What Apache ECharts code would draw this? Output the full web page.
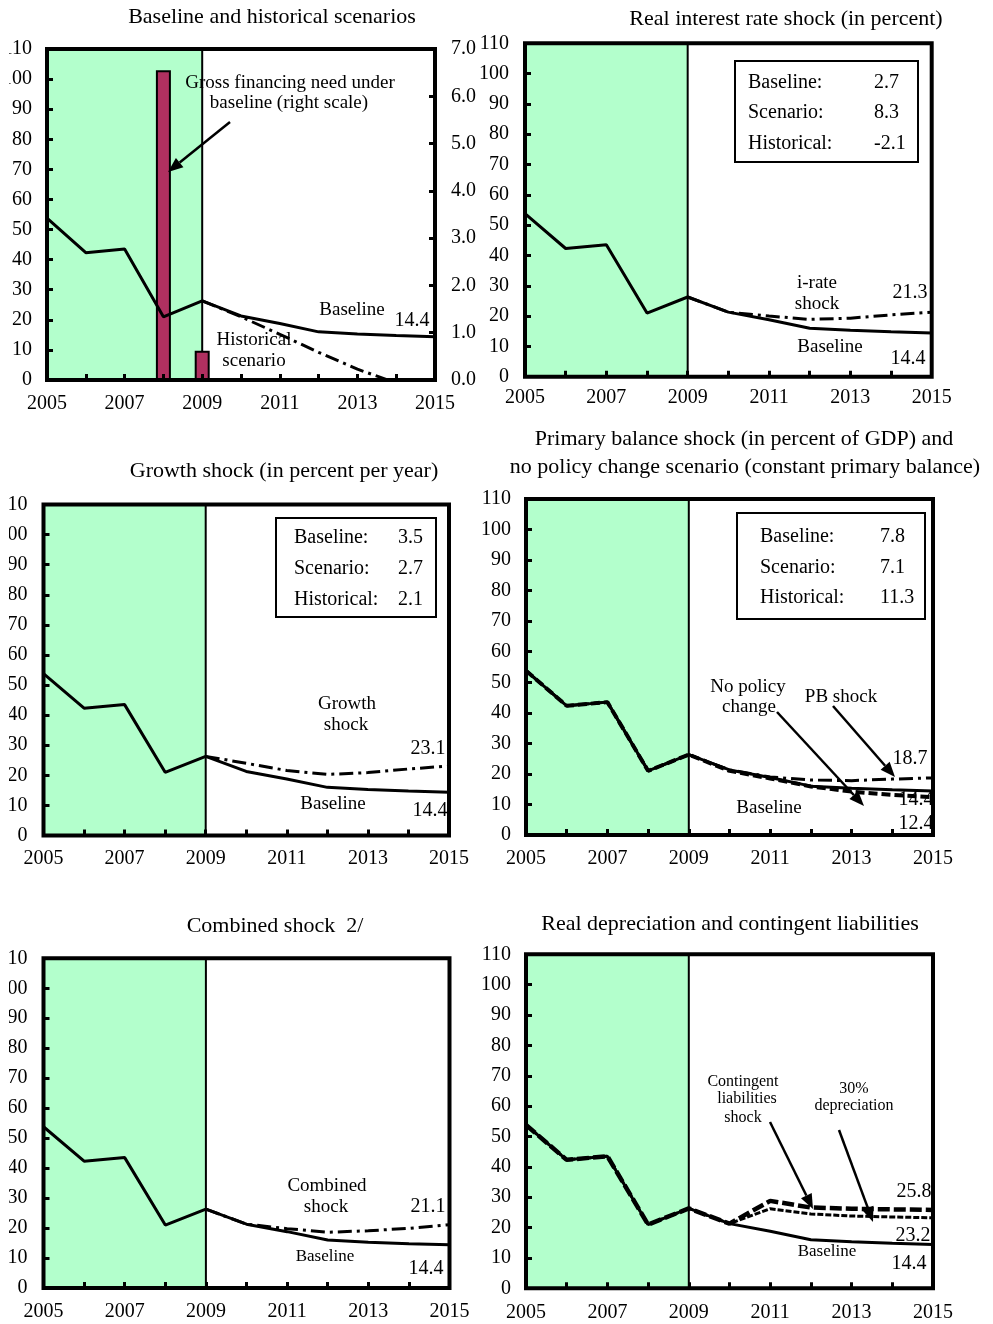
<!DOCTYPE html>
<html>
<head>
<meta charset="utf-8">
<script src="https://cdn.jsdelivr.net/npm/echarts@6/dist/echarts.min.js"></script>
<style>
  body { margin: 0; background: #fff; }
  #colLeft { position: absolute; left: 9px; top: 0; width: 473px; height: 1324px; }
  #colRight { position: absolute; left: 472px; top: 0; width: 521px; height: 1324px; }
</style>
</head>
<body>
<div id="colLeft"></div>
<div id="colRight"></div>
<script>
// ---------------- data ----------------
var years = [2005, 2006, 2007, 2008, 2009, 2010, 2011, 2012, 2013, 2014, 2015];

var baseline       = [53.8, 42.3, 43.5, 21.0, 26.3, 21.3, 18.8, 16.0, 15.3, 14.8, 14.4];
var historical     = [null, null, null, null, 26.3, 21.0, 15.2, 9.2, 3.6, -1.0, -5.6];
var grossFinancing = [null, null, null, 6.55, 0.62, null, null, null, null, null, null];
var irateShock     = [null, null, null, null, 26.3, 21.3, 20.0, 18.9, 19.3, 20.4, 21.3];
var growthShock    = [null, null, null, null, 26.3, 24.0, 21.6, 20.3, 20.9, 22.1, 23.1];
var pbShock        = [53.8, 42.3, 43.5, 21.0, 26.3, 21.3, 19.0, 18.0, 17.8, 18.3, 18.7];
var noPolicyChange = [53.8, 42.3, 43.5, 21.0, 26.3, 21.0, 18.5, 15.9, 14.2, 13.1, 12.4];
var combinedShock  = [null, null, null, null, 26.3, 21.3, 19.8, 18.6, 19.1, 19.9, 21.1];
var contingentLiab = [53.8, 42.3, 43.5, 21.0, 26.3, 21.3, 28.8, 26.6, 26.2, 26.0, 25.8];
var depreciation30 = [53.8, 42.3, 43.5, 21.0, 26.3, 21.3, 26.2, 24.5, 23.8, 23.5, 23.2];

var irateBox  = [['Baseline:', '2.7'], ['Scenario:', '8.3'], ['Historical:', '-2.1']];
var growthBox = [['Baseline:', '3.5'], ['Scenario:', '2.7'], ['Historical:', '2.1']];
var pbBox     = [['Baseline:', '7.8'], ['Scenario:', '7.1'], ['Historical:', '11.3']];

// ---------------- helpers ----------------
var FONT = 'Liberation Serif';
var GREEN = '#b3ffcc';
var DASHDOT = [14, 5, 3, 5];

function pairs(vals) {
    return years.map(function (y, i) { return [y, vals[i]]; });
}

function grid(left, top, width, height) {
    return { left: left, top: top, width: width, height: height, show: true,
             containLabel: false, outerBoundsMode: 'none',
             borderColor: '#000', borderWidth: 4, backgroundColor: 'rgba(0,0,0,0)', z: 10 };
}

function tick() {
    return { inside: true, length: 6, lineStyle: { color: '#000', width: 3 } };
}

function xAxisFor(gi, margin) {
    return {
        type: 'value', gridIndex: gi, min: 2005, max: 2015, interval: 1, z: 3,
        axisLine: { show: false }, splitLine: { show: false }, axisTick: tick(),
        axisLabel: { margin: margin, color: '#000', fontFamily: FONT, fontSize: 20,
            formatter: function (v) { return v % 2 === 1 ? String(v) : ''; } }
    };
}

function yAxisFor(gi, margin) {
    return {
        type: 'value', gridIndex: gi, min: 0, max: 110, interval: 10, z: 3,
        axisLine: { show: false }, splitLine: { show: false }, axisTick: tick(),
        axisLabel: { margin: margin, color: '#000', fontFamily: FONT, fontSize: 20 }
    };
}

function line(xi, yi, vals, width, type) {
    return {
        type: 'line', xAxisIndex: xi, yAxisIndex: yi, data: pairs(vals),
        symbol: 'none', silent: true, clip: true,
        lineStyle: { color: '#000', width: width, type: type || 'solid' }
    };
}

// baseline with the shaded history block 2005-2009
function baseLine(xi, yi) {
    var s = line(xi, yi, baseline, 3);
    s.markArea = {
        silent: true,
        itemStyle: { color: GREEN, borderColor: '#000', borderWidth: 2 },
        data: [[{ xAxis: 2005 }, { xAxis: 2009 }]]
    };
    return s;
}

// annotation helpers, page coords -> canvas coords
function txt(off, x, y, s, size, align) {
    return { type: 'text', x: x - off, y: y, z: 20, silent: true,
        style: { text: s, fill: '#000', fontFamily: FONT, fontSize: size || 20,
                 align: align || 'center', verticalAlign: 'middle',
                 textAlign: align || 'center', textVerticalAlign: 'middle' } };
}

function arrow(off, x1, y1, x2, y2) {
    var a = Math.atan2(y2 - y1, x2 - x1), L = 15, W = 6;
    var c = Math.cos(a), s = Math.sin(a);
    var bx = x2 - L * c, by = y2 - L * s;
    return [
        { type: 'line', z: 20, silent: true,
          shape: { x1: x1 - off, y1: y1, x2: bx - off, y2: by },
          style: { stroke: '#000', lineWidth: 2.5 } },
        { type: 'polygon', z: 20, silent: true,
          shape: { points: [[x2 - off, y2], [bx + W * s - off, by - W * c], [bx - W * s - off, by + W * c]] },
          style: { fill: '#000' } }
    ];
}

function box(off, x1, y1, x2, y2, rows, labX, valX, rowY) {
    var out = [{ type: 'rect', z: 19, silent: true,
        shape: { x: x1 - off, y: y1, width: x2 - x1, height: y2 - y1 },
        style: { fill: '#fff', stroke: '#000', lineWidth: 2 } }];
    rows.forEach(function (r, i) {
        out.push(txt(off, labX, rowY[i], r[0], 20, 'left'));
        out.push(txt(off, valX, rowY[i], r[1], 20, 'left'));
    });
    return out;
}

// ---------------- left column ----------------
var offL = 9;
var leftChart = echarts.init(document.getElementById('colLeft'));

var gLeft = [];
gLeft = gLeft.concat([
    txt(offL, 272, 17, 'Baseline and historical scenarios', 22),
    txt(offL, 290, 83, 'Gross financing need under', 19),
    txt(offL, 289, 103, 'baseline (right scale)', 19),
    txt(offL, 352, 310, 'Baseline', 19),
    txt(offL, 412, 321, '14.4', 20),
    txt(offL, 254, 340, 'Historical', 19),
    txt(offL, 254, 361, 'scenario', 19),
    txt(offL, 284, 471, 'Growth shock (in percent per year)', 22),
    txt(offL, 347, 704, 'Growth', 19),
    txt(offL, 346, 725, 'shock', 19),
    txt(offL, 428, 749, '23.1', 20),
    txt(offL, 333, 804, 'Baseline', 19),
    txt(offL, 430, 811, '14.4', 20),
    txt(offL, 275, 926, 'Combined shock  2/', 22),
    txt(offL, 327, 1186, 'Combined', 19),
    txt(offL, 326, 1207, 'shock', 19),
    txt(offL, 428, 1207, '21.1', 20),
    txt(offL, 325, 1257, 'Baseline', 17),
    txt(offL, 426, 1269, '14.4', 20)
]);
gLeft = gLeft.concat(arrow(offL, 230, 122, 168, 172));
gLeft = gLeft.concat(box(offL, 276, 518, 436, 617, growthBox, 294, 398, [538, 569, 600]));

var rightScale = {
    type: 'value', gridIndex: 0, position: 'right', min: 0, max: 7, interval: 1, z: 3,
    axisLine: { show: false }, splitLine: { show: false }, axisTick: tick(),
    axisLabel: { margin: 16, color: '#000', fontFamily: FONT, fontSize: 20,
        formatter: function (v) { return v.toFixed(1); } }
};

leftChart.setOption({
    animation: false,
    grid: [grid(38, 49, 388, 331), grid(34.5, 504.5, 405.5, 331), grid(34.5, 958.3, 406, 329.7)],
    xAxis: [xAxisFor(0, 14), xAxisFor(1, 13.5), xAxisFor(2, 14)],
    yAxis: [yAxisFor(0, 15), rightScale, yAxisFor(1, 16), yAxisFor(2, 16)],
    series: [
        { type: 'bar', xAxisIndex: 0, yAxisIndex: 1, data: pairs(grossFinancing), barWidth: 15, silent: true,
          itemStyle: { color: '#b03060', borderColor: '#000', borderWidth: 2 } },
        baseLine(0, 0),
        line(0, 0, historical, 3, DASHDOT),
        baseLine(1, 2),
        line(1, 2, growthShock, 3, DASHDOT),
        baseLine(2, 3),
        line(2, 3, combinedShock, 3, DASHDOT)
    ],
    graphic: gLeft
});

// ---------------- right column ----------------
var offR = 472;
var rightChart = echarts.init(document.getElementById('colRight'));

var gRight = [];
gRight = gRight.concat([
    txt(offR, 786, 19, 'Real interest rate shock (in percent)', 22),
    txt(offR, 817, 283, 'i-rate', 19),
    txt(offR, 817, 304, 'shock', 19),
    txt(offR, 910, 293, '21.3', 20),
    txt(offR, 830, 347, 'Baseline', 19),
    txt(offR, 908, 359, '14.4', 20),
    txt(offR, 744, 439, 'Primary balance shock (in percent of GDP) and', 22),
    txt(offR, 745, 467, 'no policy change scenario (constant primary balance)', 22),
    txt(offR, 748, 687, 'No policy', 19),
    txt(offR, 749, 707, 'change', 19),
    txt(offR, 841, 697, 'PB shock', 19),
    txt(offR, 910, 759, '18.7', 20),
    txt(offR, 916, 800, '14.4', 20),
    txt(offR, 916, 824, '12.4', 20),
    txt(offR, 769, 808, 'Baseline', 19),
    txt(offR, 730, 924, 'Real depreciation and contingent liabilities', 22),
    txt(offR, 743, 1082, 'Contingent', 16),
    txt(offR, 747, 1099, 'liabilities', 16),
    txt(offR, 743, 1118, 'shock', 16),
    txt(offR, 854, 1089, '30%', 16),
    txt(offR, 854, 1106, 'depreciation', 16),
    txt(offR, 914, 1192, '25.8', 20),
    txt(offR, 913, 1236, '23.2', 20),
    txt(offR, 827, 1252, 'Baseline', 17),
    txt(offR, 909, 1264, '14.4', 20)
]);
gRight = gRight.concat(box(offR, 735, 61, 918, 162, irateBox, 748, 874, [83, 113, 144]));
gRight = gRight.concat(box(offR, 737, 513, 925, 619, pbBox, 760, 880, [537, 568, 598]));
gRight = gRight.concat(arrow(offR, 777, 712, 864, 806));
gRight = gRight.concat(arrow(offR, 833, 706, 895, 777));
gRight = gRight.concat(arrow(offR, 770, 1122, 813, 1209));
gRight = gRight.concat(arrow(offR, 839, 1130, 873, 1222));

rightChart.setOption({
    animation: false,
    grid: [grid(53, 43.3, 406.7, 333.4), grid(54, 499, 407, 336), grid(54, 954.3, 407, 334)],
    xAxis: [xAxisFor(0, 11), xAxisFor(1, 13.5), xAxisFor(2, 14)],
    yAxis: [yAxisFor(0, 16), yAxisFor(1, 15), yAxisFor(2, 15)],
    series: [
        baseLine(0, 0),
        line(0, 0, irateShock, 3, DASHDOT),
        baseLine(1, 1),
        line(1, 1, noPolicyChange, 4, [9, 4]),
        line(1, 1, pbShock, 3, DASHDOT),
        baseLine(2, 2),
        line(2, 2, depreciation30, 3, [6, 2]),
        line(2, 2, contingentLiab, 4.5, [12, 4])
    ],
    graphic: gRight
});
</script>
</body>
</html>
